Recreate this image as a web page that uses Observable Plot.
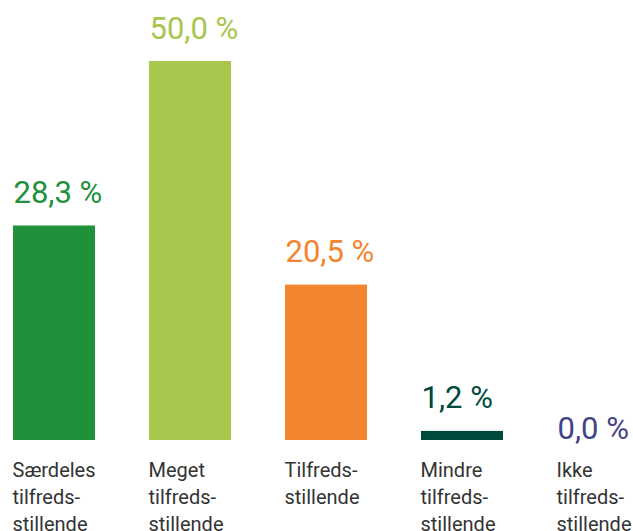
<!DOCTYPE html>
<html>
<head>
<meta charset="utf-8">
<script src="https://cdn.jsdelivr.net/npm/d3@7"></script>
<script src="https://cdn.jsdelivr.net/npm/@observablehq/plot@0.6"></script>
<style>
  html, body { margin: 0; padding: 0; background: #fff; }
  #chart svg { display: block; }
</style>
</head>
<body>
<div id="chart"></div>
<script>
const categories = ["Særdeles\ntilfreds-\nstillende", "Meget\ntilfreds-\nstillende", "Tilfreds-\nstillende", "Mindre\ntilfreds-\nstillende", "Ikke\ntilfreds-\nstillende"];
const values = [28.3, 50.0, 20.5, 1.2, 0.0];
const colors = ["#21903b", "#a7c64c", "#f3852f", "#004a3d", "#434385"];

const data = categories.map((c, i) => ({cat: c, value: values[i], color: colors[i]}));
const fmt = v => v.toFixed(1).replace(".", ",") + " %";
const halfBand = 41;

const chart = Plot.plot({
  width: 633,
  height: 531,
  marginTop: 0,
  marginBottom: 0,
  marginLeft: 0,
  marginRight: 0,
  style: {fontFamily: "Roboto, sans-serif", background: "#fff"},
  x: {domain: categories, range: [11, 641], paddingInner: 0.4, paddingOuter: 0, axis: null},
  y: {domain: [0, 50], range: [440, 61], axis: null},
  marks: [
    Plot.barY(data, {x: "cat", y: "value", fill: "color"}),
    Plot.text(data.filter(d => d.value > 0), {
      x: "cat", y: "value", text: d => fmt(d.value), fill: "color",
      textAnchor: "start", lineAnchor: "bottom", dx: -halfBand, dy: -23,
      fontSize: 31
    }),
    Plot.text(data.filter(d => d.value === 0), {
      x: "cat", y: "value", text: d => fmt(d.value), fill: "color",
      textAnchor: "start", lineAnchor: "bottom", dx: -halfBand, dy: -2,
      fontSize: 31
    }),
    Plot.text(data, {
      x: "cat", y: 0, text: "cat", fill: "#333",
      textAnchor: "start", lineAnchor: "top", dx: -halfBand - 1, dy: 18,
      fontSize: 20, lineHeight: 1.33
    })
  ]
});
document.getElementById("chart").appendChild(chart);
</script>
</body>
</html>
